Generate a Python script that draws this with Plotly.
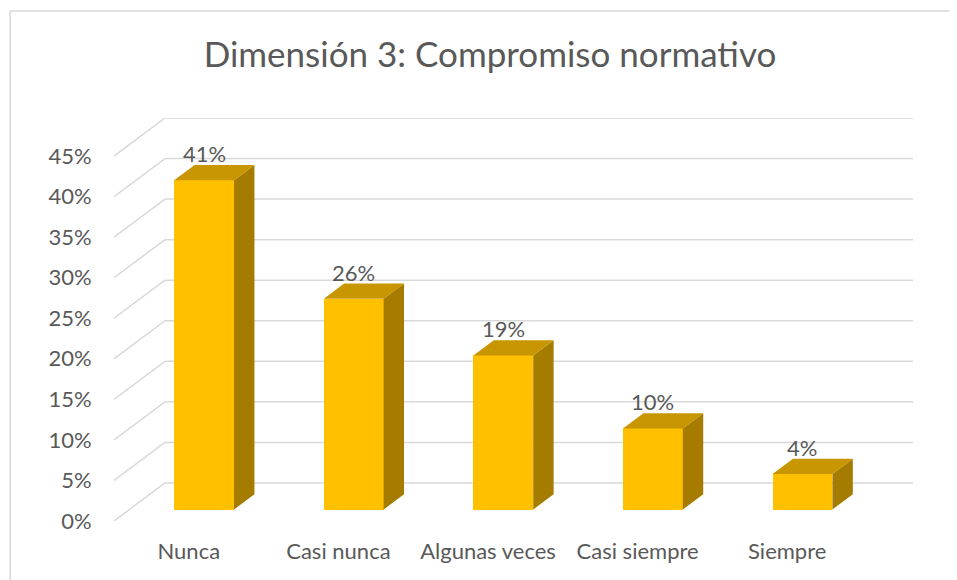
import plotly.graph_objects as go

# ---- data ----
categories = ["Nunca", "Casi nunca", "Algunas veces", "Casi siempre", "Siempre"]
values = [0.406, 0.26, 0.19, 0.10, 0.044]
y_ticks = [0, 0.05, 0.10, 0.15, 0.20, 0.25, 0.30, 0.35, 0.40, 0.45]
y_tick_labels = ["0%", "5%", "10%", "15%", "20%", "25%", "30%", "35%", "40%", "45%"]
title_text = "Dimensión 3: Compromiso normativo"

# ---- 3D look parameters (oblique projection in data units) ----
DX = 0.341    # horizontal depth offset (category units)
DY = 0.0469   # vertical depth offset (value units)
F0, F1 = 0.3, 0.7   # bar front / back depth fractions
BAR_W = 0.4
FRONT = "#FFC000"
TOP = "#C89600"
SIDE = "#A57B00"
GRID = "#D9D9D9"
TXT = "#595959"
FONT = "Lato"
PAGE_OFF = 8  # browser default body margin

xs = list(range(len(categories)))
fig = go.Figure()

# front faces
fig.add_trace(go.Bar(
    x=[i + F0 * DX for i in xs], y=values, base=F0 * DY, width=BAR_W,
    marker=dict(color=FRONT, line=dict(width=0)), hoverinfo="skip", showlegend=False))

# side and top faces
side_x, side_y, top_x, top_y = [], [], [], []
d = F1 - F0
for i, v in zip(xs, values):
    xl = i + F0 * DX - BAR_W / 2
    xr = i + F0 * DX + BAR_W / 2
    b0 = F0 * DY
    side_x += [xr, xr, xr + d * DX, xr + d * DX, xr, None]
    side_y += [b0, b0 + v, b0 + v + d * DY, b0 + d * DY, b0, None]
    top_x += [xl, xr, xr + d * DX, xl + d * DX, xl, None]
    top_y += [b0 + v, b0 + v, b0 + v + d * DY, b0 + v + d * DY, b0 + v, None]

fig.add_trace(go.Scatter(x=side_x, y=side_y, mode="lines", fill="toself",
                         fillcolor=SIDE, line=dict(width=0, color=SIDE),
                         hoverinfo="skip", showlegend=False))
fig.add_trace(go.Scatter(x=top_x, y=top_y, mode="lines", fill="toself",
                         fillcolor=TOP, line=dict(width=0, color=TOP),
                         hoverinfo="skip", showlegend=False))

# data labels
annotations = []
for i, v in zip(xs, values):
    annotations.append(dict(x=i + F0 * DX, y=v + F1 * DY, xref="x", yref="y",
                            text=f"{round(v * 100):d}%", showarrow=False,
                            xanchor="center", yanchor="bottom", yshift=-4,
                            font=dict(family=FONT, size=22, color=TXT)))

# gridlines: left wall diagonals + back wall horizontals (below bars)
x0 = -0.5
x1 = len(categories) - 0.5
shapes = []
for t in y_ticks:
    shapes.append(dict(type="line", xref="x", yref="y", x0=x0, y0=t, x1=x0 + DX, y1=t + DY,
                       line=dict(color=GRID, width=1.5), layer="below"))
    shapes.append(dict(type="line", xref="x", yref="y", x0=x0 + DX, y0=t + DY, x1=x1 + DX, y1=t + DY,
                       line=dict(color=GRID, width=1.5), layer="below"))
# chart border (top and left)
shapes.append(dict(type="line", xref="paper", yref="paper", x0=-0.130, y0=1.2655, x1=1.06, y1=1.2655,
                   line=dict(color=GRID, width=1.5)))
shapes.append(dict(type="line", xref="paper", yref="paper", x0=-0.130, y0=1.2655, x1=-0.130, y1=-0.16,
                   line=dict(color=GRID, width=1.5)))

fig.update_layout(
    width=957 - PAGE_OFF, height=580 - PAGE_OFF,
    margin=dict(l=114 - PAGE_OFF, r=44, t=118 - PAGE_OFF, b=59, autoexpand=False),
    paper_bgcolor="white", plot_bgcolor="white",
    font=dict(family=FONT, color=TXT),
    shapes=shapes, annotations=annotations,
    title=dict(text=title_text, x=(490 - PAGE_OFF) / (957 - PAGE_OFF), xanchor="center",
               xref="container", y=1 - (55 - PAGE_OFF) / (580 - PAGE_OFF), yanchor="middle",
               yref="container", font=dict(family=FONT, size=35, color=TXT)),
    xaxis=dict(range=[x0, x1 + DX], tickvals=xs, ticktext=categories,
               showgrid=False, zeroline=False, showline=False,
               ticks="outside", ticklen=0, ticklabelstandoff=11,
               tickfont=dict(family=FONT, size=22, color=TXT), fixedrange=True),
    yaxis=dict(range=[0, max(y_ticks) + DY], tickvals=y_ticks, ticktext=y_tick_labels,
               showgrid=False, zeroline=False, showline=False,
               ticks="outside", ticklen=0, ticklabelstandoff=17,
               tickfont=dict(family=FONT, size=22, color=TXT), fixedrange=True),
    bargap=0,
)

fig.write_html("out.html")
